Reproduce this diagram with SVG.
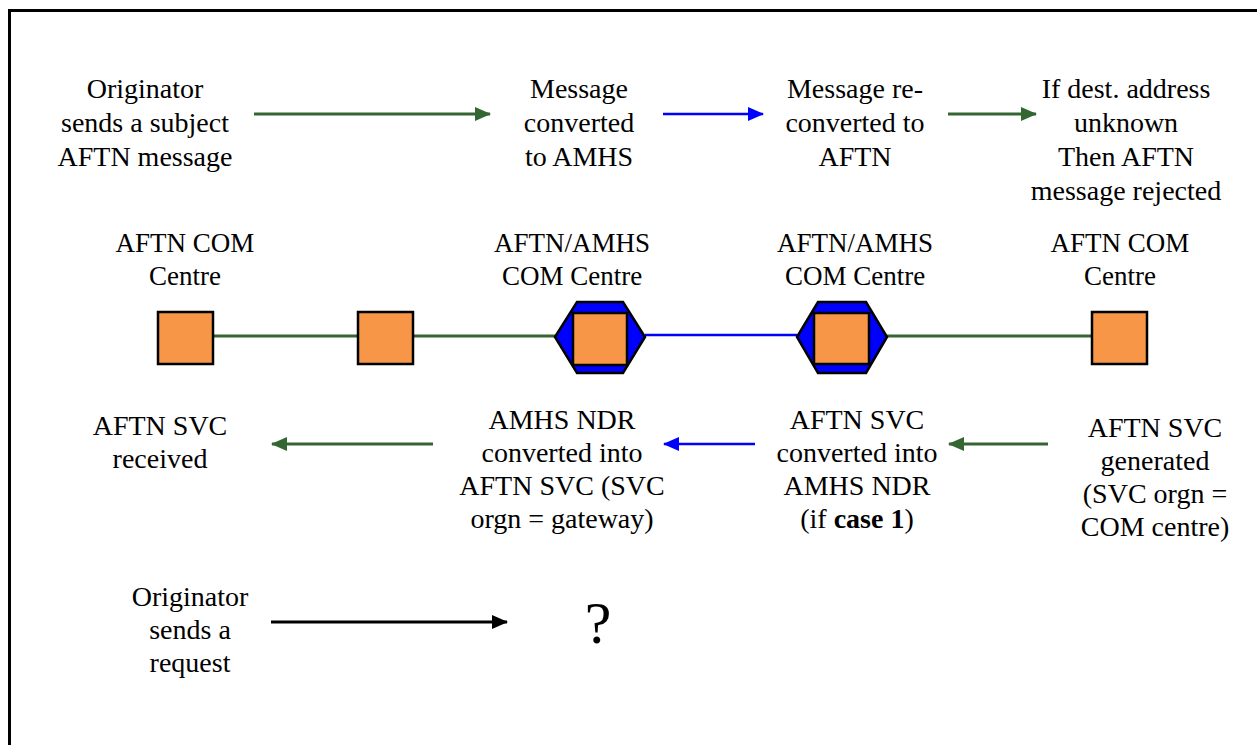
<svg xmlns="http://www.w3.org/2000/svg" width="1257" height="745" viewBox="0 0 1257 745">
<defs>
<marker id="ag" markerWidth="16" markerHeight="14" refX="15" refY="7" orient="auto" markerUnits="userSpaceOnUse"><path d="M0,0 L16,7 L0,14 Z" fill="#336633"/></marker>
<marker id="ab" markerWidth="16" markerHeight="14" refX="15" refY="7" orient="auto" markerUnits="userSpaceOnUse"><path d="M0,0 L16,7 L0,14 Z" fill="#0000FF"/></marker>
<marker id="ak" markerWidth="16" markerHeight="14" refX="15" refY="7" orient="auto" markerUnits="userSpaceOnUse"><path d="M0,0 L16,7 L0,14 Z" fill="#000000"/></marker>
</defs>
<style>
text{font-family:"Liberation Serif","Times New Roman",serif;font-size:28px;fill:#000;text-anchor:middle}
.lbl{font-size:27px}
.sq{fill:#F79646;stroke:#000;stroke-width:2.5}
.hex{fill:#0000FF;stroke:#000;stroke-width:2.5}
.g{stroke:#336633;stroke-width:3;fill:none}
.b{stroke:#0000FF;stroke-width:2.5;fill:none}
.k{stroke:#000;stroke-width:3;fill:none}
</style>
<rect x="0" y="0" width="1257" height="745" fill="#fff"/>
<rect x="9.5" y="10.5" width="1400" height="900" fill="none" stroke="#000" stroke-width="3"/>

<g id="connectors">
<line class="g" x1="213" y1="336" x2="358" y2="336"/>
<line class="g" x1="413" y1="336" x2="555" y2="336"/>
<line class="b" x1="645" y1="335" x2="797" y2="335"/>
<line class="g" x1="887" y1="336" x2="1092" y2="336"/>
<line class="g" x1="254" y1="114" x2="490" y2="114" marker-end="url(#ag)"/>
<line class="b" x1="663" y1="114" x2="763" y2="114" marker-end="url(#ab)"/>
<line class="g" x1="948" y1="114" x2="1036" y2="114" marker-end="url(#ag)"/>
<line class="g" x1="433" y1="444" x2="272" y2="444" marker-end="url(#ag)"/>
<line class="b" x1="755" y1="444" x2="664" y2="444" marker-end="url(#ab)"/>
<line class="g" x1="1048" y1="444" x2="949" y2="444" marker-end="url(#ag)"/>
<line class="k" x1="271" y1="622" x2="507" y2="622" marker-end="url(#ak)"/>
</g>

<g id="node-aftn-com-left">
<rect class="sq" x="158" y="312" width="55" height="52"/>
<text class="lbl" x="185" y="252">AFTN COM</text>
<text class="lbl" x="185" y="285">Centre</text>
</g>
<g id="node-relay">
<rect class="sq" x="358" y="312" width="55" height="52"/>
</g>
<g id="node-gateway-1">
<polygon class="hex" points="555,337 577,302 623,302 645,337 623,373 577,373"/>
<rect class="sq" x="573" y="313" width="54" height="52"/>
<text class="lbl" x="572" y="252">AFTN/AMHS</text>
<text class="lbl" x="572" y="285">COM Centre</text>
</g>
<g id="node-gateway-2">
<polygon class="hex" points="797,337 818,302 866,302 887,337 866,373 818,373"/>
<rect class="sq" x="814" y="313" width="55" height="51"/>
<text class="lbl" x="855" y="252">AFTN/AMHS</text>
<text class="lbl" x="855" y="285">COM Centre</text>
</g>
<g id="node-aftn-com-right">
<rect class="sq" x="1092" y="312" width="55" height="52"/>
<text class="lbl" x="1120" y="252">AFTN COM</text>
<text class="lbl" x="1120" y="285">Centre</text>
</g>

<g id="label-originator">
<text x="145" y="98">Originator</text>
<text x="145" y="132">sends a subject</text>
<text x="145" y="166">AFTN message</text>
</g>
<g id="label-converted-amhs">
<text x="579" y="98">Message</text>
<text x="579" y="132">converted</text>
<text x="579" y="166">to AMHS</text>
</g>
<g id="label-reconverted">
<text x="855" y="98">Message re-</text>
<text x="855" y="132">converted to</text>
<text x="855" y="166">AFTN</text>
</g>
<g id="label-rejected">
<text x="1126" y="98">If dest. address</text>
<text x="1126" y="132">unknown</text>
<text x="1126" y="166">Then AFTN</text>
<text x="1126" y="200">message rejected</text>
</g>
<g id="label-svc-received">
<text x="160" y="435">AFTN SVC</text>
<text x="160" y="468">received</text>
</g>
<g id="label-ndr-converted">
<text x="562" y="429">AMHS NDR</text>
<text x="562" y="462">converted into</text>
<text x="562" y="495">AFTN SVC (SVC</text>
<text x="562" y="528">orgn = gateway)</text>
</g>
<g id="label-svc-converted">
<text x="857" y="429">AFTN SVC</text>
<text x="857" y="462">converted into</text>
<text x="857" y="495">AMHS NDR</text>
<text x="857" y="528">(if <tspan font-weight="bold">case 1</tspan>)</text>
</g>
<g id="label-svc-generated">
<text x="1155" y="437">AFTN SVC</text>
<text x="1155" y="470">generated</text>
<text x="1155" y="503">(SVC orgn =</text>
<text x="1155" y="536">COM centre)</text>
</g>
<g id="label-request">
<text x="190" y="606">Originator</text>
<text x="190" y="639">sends a</text>
<text x="190" y="672">request</text>
</g>
<g id="label-question">
<text x="598" y="643" style="font-size:60px">?</text>
</g>
</svg>
